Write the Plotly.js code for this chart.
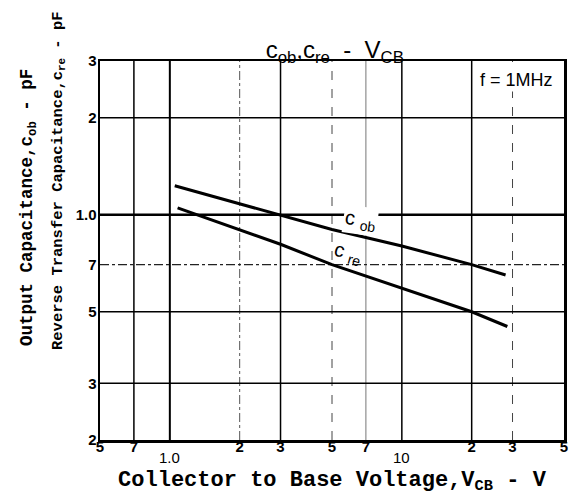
<!DOCTYPE html>
<html>
<head>
<meta charset="utf-8">
<script src="https://cdn.plot.ly/plotly-3.0.1.min.js"></script>
<style>html,body{margin:0;padding:0;background:#fff}#chart{width:569px;height:499px}</style>
</head>
<body>
<div id="chart"></div>
<script>
// ---- data ----
const vcbCob = [1.05, 2, 3, 5, 10, 20, 28];
const cob    = [1.23, 1.08, 1.0, 0.9, 0.8, 0.7, 0.65];
const vcbCre = [1.08, 2, 3, 5, 10, 20, 28.5];
const cre    = [1.05, 0.9, 0.81, 0.7, 0.59, 0.5, 0.45];

const xTickVals = [0.5, 0.7, 1, 2, 3, 5, 7, 10, 20, 30, 50];
const xTickText = ["5", "7", "1.0", "2", "3", "5", "7", "10", "2", "3", "5"];
const xTickLow  = [false, false, true, false, false, false, false, true, false, false, false];
const yTickVals = [0.2, 0.3, 0.5, 0.7, 1, 2, 3];
const yTickText = ["2", "3", "5", "7", "1.0", "2", "3"];

const xGrid = [0.7, 1, 2, 3, 5, 7, 10, 20, 30];
const yGrid = [0.3, 0.5, 0.7, 1, 2];

// ---- grid line styles ----
const xGridStyle = {
  0.7: {color: '#000', width: 1.5, dash: 'solid'},
  1:   {color: '#000', width: 2,   dash: 'solid'},
  2:   {color: '#555', width: 1,   dash: 'dashdot'},
  3:   {color: '#000', width: 1.5, dash: 'solid'},
  5:   {color: '#444', width: 1,   dash: 'dash'},
  7:   {color: '#777', width: 1,   dash: 'solid'},
  10:  {color: '#000', width: 1.5, dash: 'solid'},
  20:  {color: '#000', width: 1.5, dash: 'solid'},
  30:  {color: '#444', width: 1,   dash: 'dash'}
};
const yGridStyle = {
  0.3: {color: '#000', width: 1.5, dash: 'solid'},
  0.5: {color: '#000', width: 1.5, dash: 'solid'},
  0.7: {color: '#222', width: 1.2, dash: 'dashdot'},
  1:   {color: '#000', width: 2.5, dash: 'solid'},
  2:   {color: '#000', width: 1.5, dash: 'solid'}
};

const shapes = [];
xGrid.forEach(v => shapes.push({type: 'line', layer: 'below', xref: 'x', yref: 'paper',
  x0: v, x1: v, y0: 0, y1: 1, line: xGridStyle[v]}));
yGrid.forEach(v => shapes.push({type: 'line', layer: 'below', xref: 'paper', yref: 'y',
  x0: 0, x1: 1, y0: v, y1: v, line: yGridStyle[v]}));

const traces = [
  {x: vcbCob, y: cob, mode: 'lines', line: {color: '#000', width: 3}, name: 'Cob', hoverinfo: 'skip'},
  {x: vcbCre, y: cre, mode: 'lines', line: {color: '#000', width: 3}, name: 'Cre', hoverinfo: 'skip'}
];

const mono = 'Liberation Mono';
const tickFont = {family: 'Liberation Sans', size: 15, color: '#000', weight: 'bold'};

// x tick labels: regular ones on the axis, the two decade labels staggered lower
const axisTickText = xTickText.map((t, i) => xTickLow[i] ? '' : t);
const lowTickAnns = xTickVals.map((v, i) => xTickLow[i] ? {
  text: xTickText[i], showarrow: false, xref: 'x', yref: 'paper',
  x: Math.log10(v), y: -(457 - 440) / 379, xanchor: 'center', yanchor: 'middle',
  font: {family: 'Liberation Sans', size: 15, color: '#000'}
} : null).filter(a => a);

const layout = {
  width: 569, height: 499,
  margin: {l: 100, r: 5, t: 61, b: 59},
  paper_bgcolor: '#fff', plot_bgcolor: '#fff',
  showlegend: false,
  title: {
    text: 'c<sub>ob</sub>,c<sub>re</sub>&nbsp;&nbsp;-&nbsp;&nbsp;V<sub>CB</sub>',
    font: {family: 'Liberation Sans', size: 24, color: '#000'},
    x: 0.506, xref: 'paper', xanchor: 'center',
    y: 1 - 50 / 499, yref: 'container', yanchor: 'middle'
  },
  xaxis: {
    type: 'log', range: [Math.log10(0.5), Math.log10(50)],
    tickmode: 'array', tickvals: xTickVals, ticktext: axisTickText,
    showgrid: false, zeroline: false,
    showline: true, mirror: true, linecolor: '#000', linewidth: 2.5,
    ticks: '', ticklabelstandoff: -9, tickfont: tickFont,
    title: {text: 'Collector to Base Voltage,V<sub>CB</sub> - V',
      font: {family: mono, size: 22, color: '#000', weight: 'bold'}, standoff: 17}
  },
  yaxis: {
    type: 'log', range: [Math.log10(0.2), Math.log10(3)],
    tickmode: 'array', tickvals: yTickVals, ticktext: yTickText,
    showgrid: false, zeroline: false,
    showline: true, mirror: true, linecolor: '#000', linewidth: 2.5,
    ticks: '', ticklabelstandoff: -2,
    tickfont: tickFont
  },
  shapes: shapes,
  annotations: lowTickAnns.concat([
    {text: 'Output Capacitance,c<sub>ob</sub> - pF', textangle: -90, showarrow: false,
     xref: 'paper', yref: 'paper', x: (28 - 100) / 464, y: 1 - (208 - 61) / 379,
     xanchor: 'center', yanchor: 'middle',
     font: {family: mono, size: 17.5, color: '#000', weight: 'bold'}},
    {text: 'Reverse Transfer Capacitance,c<sub>re</sub> - pF', textangle: -90, showarrow: false,
     xref: 'paper', yref: 'paper', x: (58 - 100) / 464, y: 1 - (181 - 61) / 379,
     xanchor: 'center', yanchor: 'middle',
     font: {family: mono, size: 15.5, color: '#000', weight: 'bold'}},
    {text: 'f = 1MHz', showarrow: false, xref: 'paper', yref: 'paper',
     x: (555 - 100) / 464, y: 1 - (80 - 61) / 379, xanchor: 'right', yanchor: 'middle',
     bgcolor: '#fff',
     font: {family: 'Liberation Sans', size: 18, color: '#000'}},
    {text: 'c <sub>ob</sub>', showarrow: false, xref: 'paper', yref: 'paper', textangle: 8,
     x: (360 - 100) / 464, y: 1 - (220 - 61) / 379, xanchor: 'center', yanchor: 'middle',
     bgcolor: '#fff',
     font: {family: 'Liberation Sans', size: 20, color: '#000'}},
    {text: 'c <sub>re</sub>', showarrow: false, xref: 'paper', yref: 'paper', textangle: 16,
     x: (348 - 100) / 464, y: 1 - (253 - 61) / 379, xanchor: 'center', yanchor: 'middle',
     font: {family: 'Liberation Sans', size: 20, color: '#000'}}
  ])
};

Plotly.newPlot('chart', traces, layout, {staticPlot: true, displayModeBar: false});
</script>
</body>
</html>
